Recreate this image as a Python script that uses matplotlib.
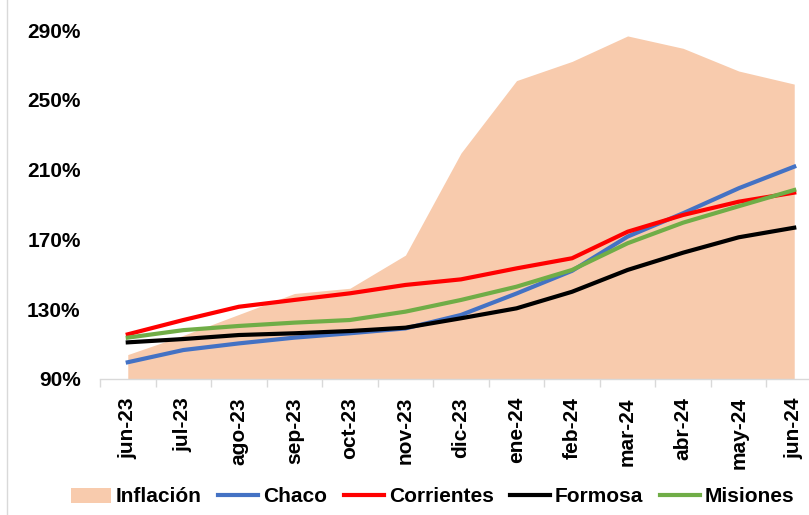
import matplotlib.pyplot as plt
import numpy as np
from matplotlib.patches import Patch
from matplotlib.lines import Line2D
from matplotlib.ticker import FuncFormatter

plt.rcParams['font.family'] = ['Liberation Sans', 'DejaVu Sans']
plt.rcParams['font.weight'] = 'bold'

# data (% acumulado)
meses = ["jun-23", "jul-23", "ago-23", "sep-23", "oct-23", "nov-23", "dic-23",
         "ene-24", "feb-24", "mar-24", "abr-24", "may-24", "jun-24"]
inflacion = [104, 115, 127, 139, 142, 161, 219.5, 261, 272, 286.6, 279.5, 266.5, 259]
chaco = [99.6, 106.6, 110.4, 113.7, 116.2, 119, 126.7, 139, 152, 171.6, 185, 199.3, 211.7]
corrientes = [115.6, 123.8, 131.4, 135.3, 139.1, 143.9, 147.1, 153.4, 159.2, 174.4, 184, 191.6, 196.8]
formosa = [111, 112.9, 115.2, 116.2, 117.5, 119.4, 124.8, 130.5, 140, 152.5, 162.4, 171.2, 176.7]
misiones = [113.7, 118, 120.4, 122.3, 123.8, 128.6, 135.3, 142.9, 152.5, 167.8, 179.6, 189, 198.3]

x = np.arange(len(meses))

fig = plt.figure(figsize=(8.09, 5.15), dpi=100)
ax = fig.add_axes([100 / 809, 1 - 379 / 515, 722 / 809, 349 / 515])

# borde gris del grafico a la izquierda
fig.add_artist(Line2D([7 / 809, 7 / 809], [0, 1], color="#D9D9D9", lw=1))

ax.fill_between(x, 0, inflacion, color="#F8CBAD", linewidth=0, zorder=1)
lw = 3
ax.plot(x, chaco, color="#4472C4", lw=lw, zorder=3)
ax.plot(x, corrientes, color="#FF0000", lw=lw, zorder=3)
ax.plot(x, formosa, color="#000000", lw=lw, zorder=3)
ax.plot(x, misiones, color="#70AD47", lw=lw, zorder=4)

ax.set_xlim(-0.5, len(meses) - 0.5)
ax.set_ylim(90, 290)
ax.set_yticks(np.arange(90, 291, 40))
ax.yaxis.set_major_formatter(FuncFormatter(lambda v, p: f"{v:.0f}%"))

ax.set_xticks(x)
ax.set_xticklabels(meses, rotation=90, fontsize=15, fontweight="bold")
ax.set_xticks(np.arange(-0.5, len(meses), 1), minor=True)
ax.tick_params(axis="x", which="major", length=0, pad=13)
ax.tick_params(axis="x", which="minor", length=6, color="#D9D9D9", width=1)
ax.tick_params(axis="y", length=0, labelsize=15, pad=14)
for lab in ax.get_yticklabels():
    lab.set_fontweight("bold")

for s in ["top", "right", "left"]:
    ax.spines[s].set_visible(False)
ax.spines["bottom"].set_color("#D9D9D9")
ax.spines["bottom"].set_linewidth(1)

handles = [
    Patch(facecolor="#F8CBAD", edgecolor="none"),
    Line2D([], [], color="#4472C4", lw=lw),
    Line2D([], [], color="#FF0000", lw=lw),
    Line2D([], [], color="#000000", lw=lw),
    Line2D([], [], color="#70AD47", lw=lw),
]
labels = ["Inflación", "Chaco", "Corrientes", "Formosa", "Misiones"]
fig.legend(handles, labels, loc="center", bbox_to_anchor=(0.535, 1 - 497 / 515),
           ncol=5, frameon=False, handlelength=1.9,
           handletextpad=0.25, columnspacing=0.8, prop={"weight": "bold", "size": 15})

fig.savefig("out.png", dpi=100)
